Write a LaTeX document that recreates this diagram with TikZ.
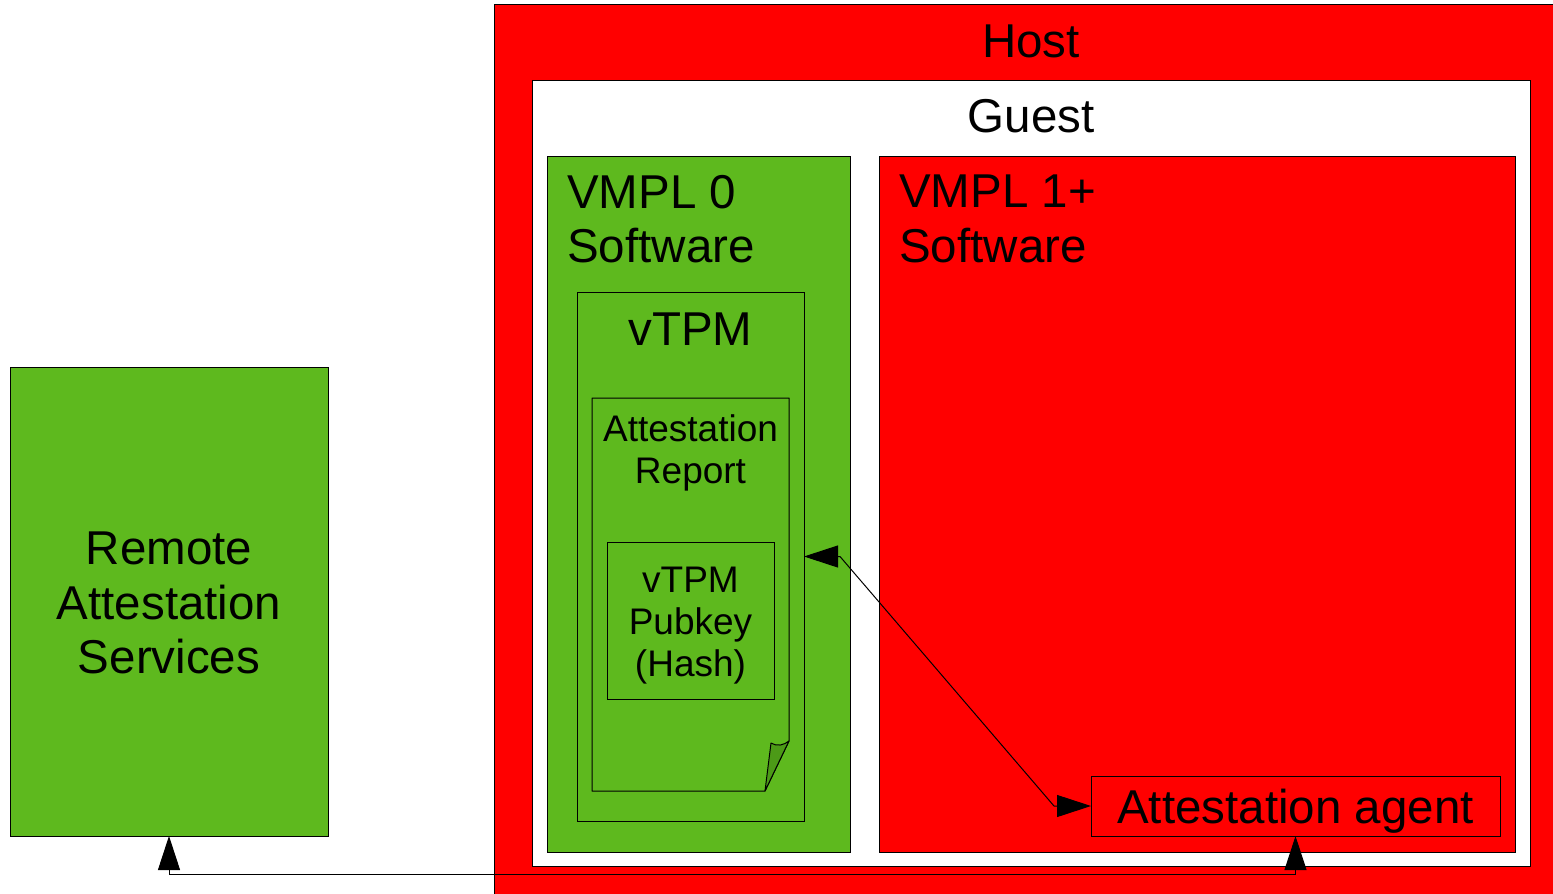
\documentclass[tikz,border=0pt]{standalone}
\usepackage{fontspec}
\setmainfont{Liberation Sans}
\usetikzlibrary{arrows.meta,calc}
\definecolor{leaf}{HTML}{5EB91E}
\definecolor{leafdark}{HTML}{4C9A17}
\definecolor{alarm}{HTML}{FF0000}
\begin{document}
\begin{tikzpicture}[x=1pt,y=-1pt,
  box/.style={draw=black, line width=1pt, rectangle, inner sep=0pt, outer sep=0pt, anchor=north west},
  big/.style={font=\fontsize{47.5}{54.5}\selectfont, inner sep=0pt, text=black},
  small/.style={font=\fontsize{37}{42}\selectfont, inner sep=0pt, text=black},
  link/.style={line width=1pt, draw=black, >={Triangle[length=34pt,width=22pt]}}]
\clip (0,0) rectangle (1553,894);
\fill[white] (0,0) rectangle (1553,894);

% nested containers
\node[box, fill=alarm, minimum width=1100pt, minimum height=920pt] (host) at (494,4) {};
\node[box, fill=white, minimum width=998pt, minimum height=786pt] (guest) at (532,80) {};
\node[box, fill=leaf, minimum width=303pt, minimum height=696pt] (vmpl0) at (547,156) {};
\node[box, fill=alarm, minimum width=636pt, minimum height=696pt] (vmpl1) at (879,156) {};
\node[box, fill=leaf, minimum width=227pt, minimum height=529pt] (vtpm) at (577,292) {};

% attestation report: page with a folded corner
\node[inner sep=0pt, outer sep=0pt, minimum width=197pt, minimum height=393pt, anchor=north west] (report) at (592,398) {};
\draw[line width=1pt, fill=leaf, line join=round]
  (report.north west) -- (report.north east) -- ($(report.south east)+(0,-50)$)
  -- ($(report.south east)+(-24,0)$) -- (report.south west) -- cycle;
\draw[line width=1pt, fill=leafdark, line join=round]
  ($(report.south east)+(-24,0)$) -- ($(report.south east)+(-18,-48)$)
  .. controls ($(report.south east)+(-12,-44)$) and ($(report.south east)+(-5,-46)$) .. ($(report.south east)+(0,-50)$) -- cycle;

\node[box, fill=leaf, minimum width=167pt, minimum height=157pt] (pubkey) at (607,542) {};
\node[box, fill=leaf, minimum width=318pt, minimum height=469pt] (remote) at (10,367) {};
\node[box, fill=alarm, minimum width=409pt, minimum height=60pt] (agent) at (1091,776) {};

% labels
\node[big, anchor=north] (hostlabel) at (1031,25) {Host};
\node[big, anchor=north] (guestlabel) at (1031,99) {Guest};
\node[big, anchor=north west, align=left] (vmpl0label) at (567,175) {VMPL 0\\Software};
\node[big, anchor=north west, align=left] (vmpl1label) at (899,175) {VMPL 1+\\Software};
\node[big, anchor=north] (vtpmlabel) at (690.5,313) {vTPM};
\node[small, anchor=north, align=center] (reportlabel) at (690.5,414) {Attestation\\Report};
\node[small, anchor=north, align=center] (pubkeylabel) at (690.5,567) {vTPM\\Pubkey\\(Hash)};
\node[big, anchor=north, align=center] (remotelabel) at (169,532) {Remote\\Attestation\\Services};
\node[big, anchor=north] (agentlabel) at (1295.5,789) {Attestation agent};

% connectors
\draw[link,<->] (vtpm.east) -- ++(36,0) -- ($(agent.west)+(-37,0)$) -- (agent.west);
\draw[link,<->] (remote.south) -- ++(0,38) -| (agent.south);
\end{tikzpicture}
\end{document}
